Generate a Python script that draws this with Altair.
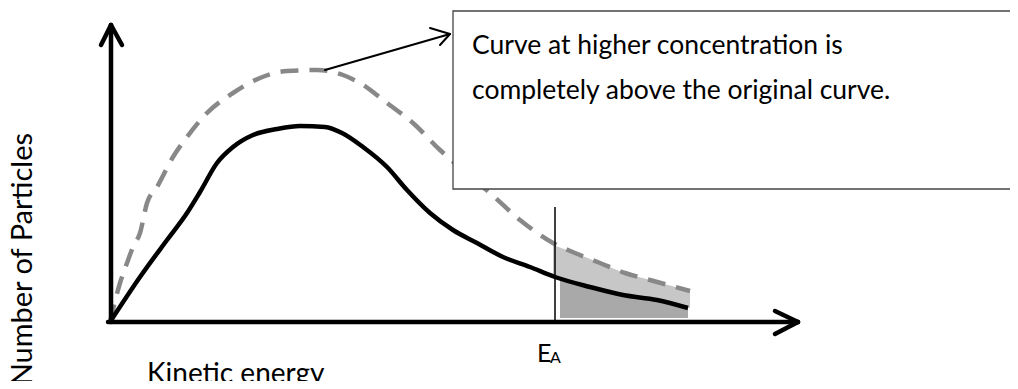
import altair as alt
import pandas as pd

# ---- data (arbitrary units: energy along x, number of particles along y) ----
energy_orig = [0, 30, 57, 77, 90, 107, 123, 143, 167, 190, 215, 232, 253, 277, 297,
               320, 343, 367, 393, 420, 445, 480, 513, 547, 578]
count_orig = [0, 45, 82, 109, 130, 159, 175, 187, 193, 196, 195, 189, 175, 155, 132,
              109, 92, 79, 65, 55, 45, 35, 27, 22, 14]

energy_high = [0, 10, 17, 23, 30, 37, 47, 63, 77, 97, 123, 150, 177, 207, 233, 250,
               277, 303, 330, 355, 380, 410, 443, 465, 490, 515, 540, 580]
count_high = [0, 39, 59, 75, 89, 119, 135, 165, 185, 209, 229, 244, 251, 252, 247, 239,
              219, 199, 172, 150, 129, 102, 79, 69, 59, 49, 42, 31]

tail_energy = [443, 465, 490, 515, 540, 580]
tail_upper = [77, 69, 59, 49, 42, 31]
tail_lower = [46, 39, 32, 27, 23, 14]

fill_energy = [450, 465, 490, 515, 540, 578]
fill_top = [43, 39, 32, 27, 23, 14]
fill_bottom = [4, 4, 4, 4, 4, 4]

activation_energy = 445
activation_top = 115

callout_lines = ["Curve at higher concentration is",
                 "completely above the original curve."]

# ---- scales ----
W, H = 1002, 373
xs = alt.Scale(domain=[-102, 900], nice=False, zero=False)
ys = alt.Scale(domain=[-59, 314], nice=False, zero=False)
FONT = "Lato"


def X(f="x"):
    return alt.X(f"{f}:Q", scale=xs, axis=None)


def Y(f="y"):
    return alt.Y(f"{f}:Q", scale=ys, axis=None)


orig_df = pd.DataFrame({"x": energy_orig, "y": count_orig})
high_df = pd.DataFrame({"x": energy_high, "y": count_high})
tail_df = pd.DataFrame({"x": tail_energy, "y": tail_lower, "y2": tail_upper})
fill_df = pd.DataFrame({"x": fill_energy, "y": fill_bottom, "y2": fill_top})

fill = alt.Chart(fill_df).mark_area(color="#a9a9a9", interpolate="monotone").encode(
    x=X(), y=Y(), y2="y2:Q")
stipple = alt.Chart(tail_df).mark_area(color="#8f8f8f", opacity=0.5,
                                       interpolate="monotone").encode(
    x=X(), y=Y(), y2="y2:Q")

high_line = alt.Chart(high_df).mark_line(
    color="#888888", strokeWidth=4.5, strokeDash=[18, 11], interpolate="monotone"
).encode(x=X(), y=Y())

orig_line = alt.Chart(orig_df).mark_line(
    color="black", strokeWidth=4.5, interpolate="monotone"
).encode(x=X(), y=Y())

# axes with arrowheads (segments)
axes_df = pd.DataFrame({
    "x":  [1, -9, 12, -2, 665, 665],
    "y":  [0, 277, 277, 0, 11, -12],
    "x2": [1, 1, 1, 688, 688, 688],
    "y2": [297, 297, 297, 0, 0, 0],
})
axes = alt.Chart(axes_df).mark_rule(color="black", strokeWidth=4.5,
                                    strokeCap="round").encode(
    x=X(), y=Y(), x2="x2:Q", y2="y2:Q")

ea_df = pd.DataFrame({"x": [activation_energy], "y": [0], "y2": [activation_top]})
ea_line = alt.Chart(ea_df).mark_rule(color="black", strokeWidth=1.5).encode(
    x=X(), y=Y(), y2="y2:Q")

# callout box
box_df = pd.DataFrame({"x": [343], "x2": [905], "y": [133], "y2": [311]})
box = alt.Chart(box_df).mark_rect(fill="white", stroke="#444444",
                                  strokeWidth=1.3).encode(
    x=X(), x2="x2:Q", y=Y(), y2="y2:Q")

arrow_df = pd.DataFrame({
    "x":  [215, 320, 330],
    "y":  [252, 294, 277],
    "x2": [340, 340, 340],
    "y2": [288, 288, 288],
})
arrow = alt.Chart(arrow_df).mark_rule(color="black", strokeWidth=2,
                                      strokeCap="round").encode(
    x=X(), y=Y(), x2="x2:Q", y2="y2:Q")

callout_df = pd.DataFrame({"x": [362, 362], "y": [268, 223], "t": callout_lines})
callout = alt.Chart(callout_df).mark_text(
    font=FONT, fontSize=26.5, align="left", baseline="alphabetic", color="black"
).encode(x=X(), y=Y(), text="t:N")

ea_big = alt.Chart(pd.DataFrame({"x": [427], "y": [-40], "t": ["E"]})).mark_text(
    font=FONT, fontSize=25, align="left", baseline="alphabetic", color="black"
).encode(x=X(), y=Y(), text="t:N")
ea_sub = alt.Chart(pd.DataFrame({"x": [440], "y": [-41], "t": ["A"]})).mark_text(
    font=FONT, fontSize=16, align="left", baseline="alphabetic", color="black"
).encode(x=X(), y=Y(), text="t:N")

xlab = alt.Chart(pd.DataFrame({"x": [37], "y": [-61], "t": ["Kinetic energy"]})).mark_text(
    font=FONT, fontSize=28, align="left", baseline="alphabetic", color="black"
).encode(x=X(), y=Y(), text="t:N")

ylab = alt.Chart(pd.DataFrame({"x": [-78], "y": [189], "t": ["Number of Particles"]})).mark_text(
    font=FONT, fontSize=29, align="right", baseline="alphabetic", angle=270, color="black"
).encode(x=X(), y=Y(), text="t:N")

chart = alt.layer(
    fill, stipple, high_line, orig_line, axes, ea_line, box, arrow, callout,
    ea_big, ea_sub, xlab, ylab
).properties(
    width=W, height=H, padding=0,
    autosize=alt.AutoSizeParams(type="none"),
    background="white",
).configure_view(stroke=None)

chart.save("out.html", embed_options={"renderer": "svg", "actions": False})
